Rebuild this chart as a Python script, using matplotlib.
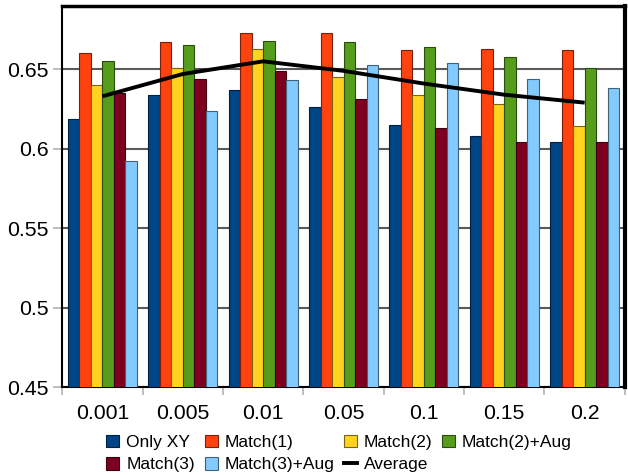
import numpy as np
import matplotlib
matplotlib.use('Agg')
import matplotlib.pyplot as plt
from matplotlib.patches import Patch
from matplotlib.lines import Line2D

plt.rcParams['font.family'] = ['Liberation Sans', 'DejaVu Sans']

groups = ['0.001', '0.005', '0.01', '0.05', '0.1', '0.15', '0.2']
series = ['Only XY', 'Match(1)', 'Match(2)', 'Match(2)+Aug', 'Match(3)', 'Match(3)+Aug']
only_xy = [0.619, 0.634, 0.637, 0.626, 0.615, 0.608, 0.604]
match1 = [0.660, 0.667, 0.673, 0.673, 0.662, 0.663, 0.662]
match2 = [0.640, 0.651, 0.663, 0.645, 0.634, 0.628, 0.614]
match2_aug = [0.655, 0.665, 0.668, 0.667, 0.664, 0.658, 0.651]
match3 = [0.635, 0.644, 0.649, 0.631, 0.613, 0.604, 0.604]
match3_aug = [0.592, 0.624, 0.643, 0.653, 0.654, 0.644, 0.638]
average = [0.633, 0.647, 0.655, 0.649, 0.641, 0.634, 0.629]

values = [only_xy, match1, match2, match2_aug, match3, match3_aug]
colors = ['#004586', '#ff420e', '#ffd320', '#579d1c', '#7e0021', '#83caff']
edges = ['#00203f', '#7a1f06', '#7a650f', '#2a4c0d', '#3c0010', '#3f6179']

fig = plt.figure(figsize=(6.28, 4.75), dpi=100)
ax = fig.add_axes([0.099, 0.185, 0.896, 0.803])

x = np.arange(len(groups))
w = 0.143
for i, (vals, c, ec) in enumerate(zip(values, colors, edges)):
    ax.bar(x - 2.5 * w + i * w, vals, w, color=c, edgecolor=ec, linewidth=0.8, zorder=3)

ax.plot(x, average, color='black', lw=2.8, zorder=4, solid_capstyle='butt')

ax.set_xlim(-0.5, len(groups) - 0.5)
ax.set_ylim(0.45, 0.69)
ax.set_yticks([0.45, 0.5, 0.55, 0.6, 0.65])
ax.set_yticklabels(['0.45', '0.5', '0.55', '0.6', '0.65'], fontsize=15.3)
ax.set_xticks(x)
ax.set_xticklabels(groups, fontsize=15.3)
ax.tick_params(axis='x', length=0, pad=12)
ax.set_xticks(np.arange(len(groups) + 1) - 0.5, minor=True)
ax.tick_params(axis='x', which='minor', length=6, color='#b3b3b3', width=1.2)
ax.tick_params(axis='y', length=6.5, color='#b3b3b3', width=1.2, pad=3)
ax.yaxis.grid(True, color='#5a5a5a', lw=1.5, zorder=0)

ax.spines['top'].set_linewidth(2.5)
ax.spines['right'].set_linewidth(3)
ax.spines['left'].set_linewidth(1.5)
ax.spines['bottom'].set_linewidth(1.5)
for s in ax.spines.values():
    s.set_color('black')

h = [Patch(facecolor=c, edgecolor=ec, linewidth=0.8) for c, ec in zip(colors, edges)]
avg_h = Line2D([0], [0], color='black', lw=2.8)
order_h = [h[0], h[4], h[1], h[5], h[2], avg_h, h[3]]
order_l = [series[0], series[4], series[1], series[5], series[2], 'Average', series[3]]
fig.legend(order_h, order_l, loc='lower center', bbox_to_anchor=(0.54, -0.02), ncol=4,
           frameon=False, fontsize=12.5, handlelength=0.75, handleheight=0.75,
           handletextpad=0.4, columnspacing=0.55, labelspacing=0.4, borderpad=0.2)

fig.savefig('out.png', dpi=100)
